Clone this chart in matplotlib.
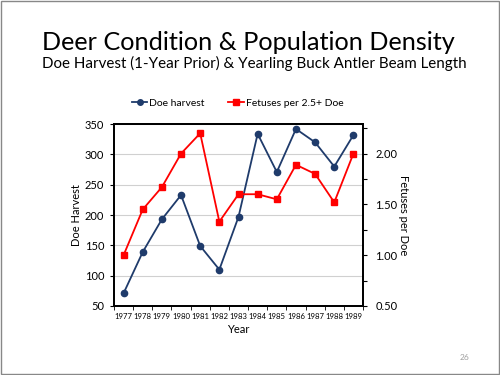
import matplotlib
matplotlib.use('agg')
import matplotlib.pyplot as plt
from matplotlib.patches import Rectangle
from matplotlib.lines import Line2D
import numpy as np

years = ['1977', '1978', '1979', '1980', '1981', '1982', '1983',
         '1984', '1985', '1986', '1987', '1988', '1989']
doe_harvest = [71, 139, 193, 233, 149, 110, 197, 334, 271, 342, 320, 280, 332]
fetuses = [1.00, 1.45, 1.67, 2.00, 2.20, 1.33, 1.60, 1.60, 1.55, 1.89, 1.80, 1.52, 2.00]

plt.rcParams['font.family'] = ['Lato', 'DejaVu Sans']

blue = '#1F3B6B'
red = '#FF0000'

fig = plt.figure(figsize=(5, 3.75), dpi=100)
# slide border
fig.add_artist(Rectangle((0.002, 0.003), 0.995, 0.994, transform=fig.transFigure,
                         fill=False, edgecolor='#888888', lw=1))

fig.text(0.497, 0.888, 'Deer Condition & Population Density', ha='center', va='center',
         fontsize=18.2, color='black')
fig.text(0.508, 0.832, 'Doe Harvest (1-Year Prior) & Yearling Buck Antler Beam Length',
         ha='center', va='center', fontsize=10.9, color='black')

ax = fig.add_axes([0.228, 0.184, 0.498, 0.485])
x = np.arange(len(years))
ax.plot(x, doe_harvest, color=blue, marker='o', markersize=4.5, lw=1.3, zorder=3)
ax.set_ylim(50, 350)
ax.set_yticks(np.arange(50, 351, 50))
ax.set_xlim(-0.5, len(years) - 0.5)
ax.set_xticks(x)
ax.set_xticklabels(years, fontsize=5.6, family=['Liberation Sans Narrow', 'Lato'])
ax.set_xticks(np.arange(-0.5, len(years), 1), minor=True)
ax.tick_params(axis='y', labelsize=8, length=3, width=0.8, pad=4)
ax.tick_params(axis='x', which='major', length=0, pad=5)
ax.tick_params(axis='x', which='minor', length=3, width=0.6)
ax.grid(axis='y', color='#D0D0D0', lw=0.8)
ax.set_axisbelow(True)
for s in ax.spines.values():
    s.set_linewidth(1.3)
ax.set_ylabel('Doe Harvest', fontsize=8, labelpad=2)
ax.set_xlabel('Year', fontsize=8, labelpad=3)

ax2 = ax.twinx()
ax2.plot(x, fetuses, color=red, marker='s', markersize=5, lw=1.3, zorder=3)
ax2.set_ylim(0.5, 2.29)
ax2.set_yticks([0.5, 1.0, 1.5, 2.0])
ax2.set_yticklabels(['0.50', '1.00', '1.50', '2.00'])
ax2.set_yticks([0.75, 1.25, 1.75, 2.25], minor=True)
ax2.tick_params(axis='y', which='both', labelsize=8, length=3, width=0.8, pad=6)
ax2.set_ylabel('Fetuses per Doe', fontsize=8, rotation=270, labelpad=8)
for s in ax2.spines.values():
    s.set_linewidth(1.3)

handles = [Line2D([], [], color=blue, marker='o', markersize=4, lw=1.3),
           Line2D([], [], color=red, marker='s', markersize=4.5, lw=1.3)]
fig.legend(handles, ['Doe harvest', 'Fetuses per 2.5+ Doe'], loc='center',
           bbox_to_anchor=(0.475, 0.725), ncol=2, frameon=False, fontsize=7.5,
           handlelength=1.5, handletextpad=0.2, columnspacing=2.2)

fig.text(0.93, 0.048, '26', ha='center', va='center', fontsize=6, color='#A0A0A0')

plt.savefig('out.png', dpi=100)
plt.close('all')
